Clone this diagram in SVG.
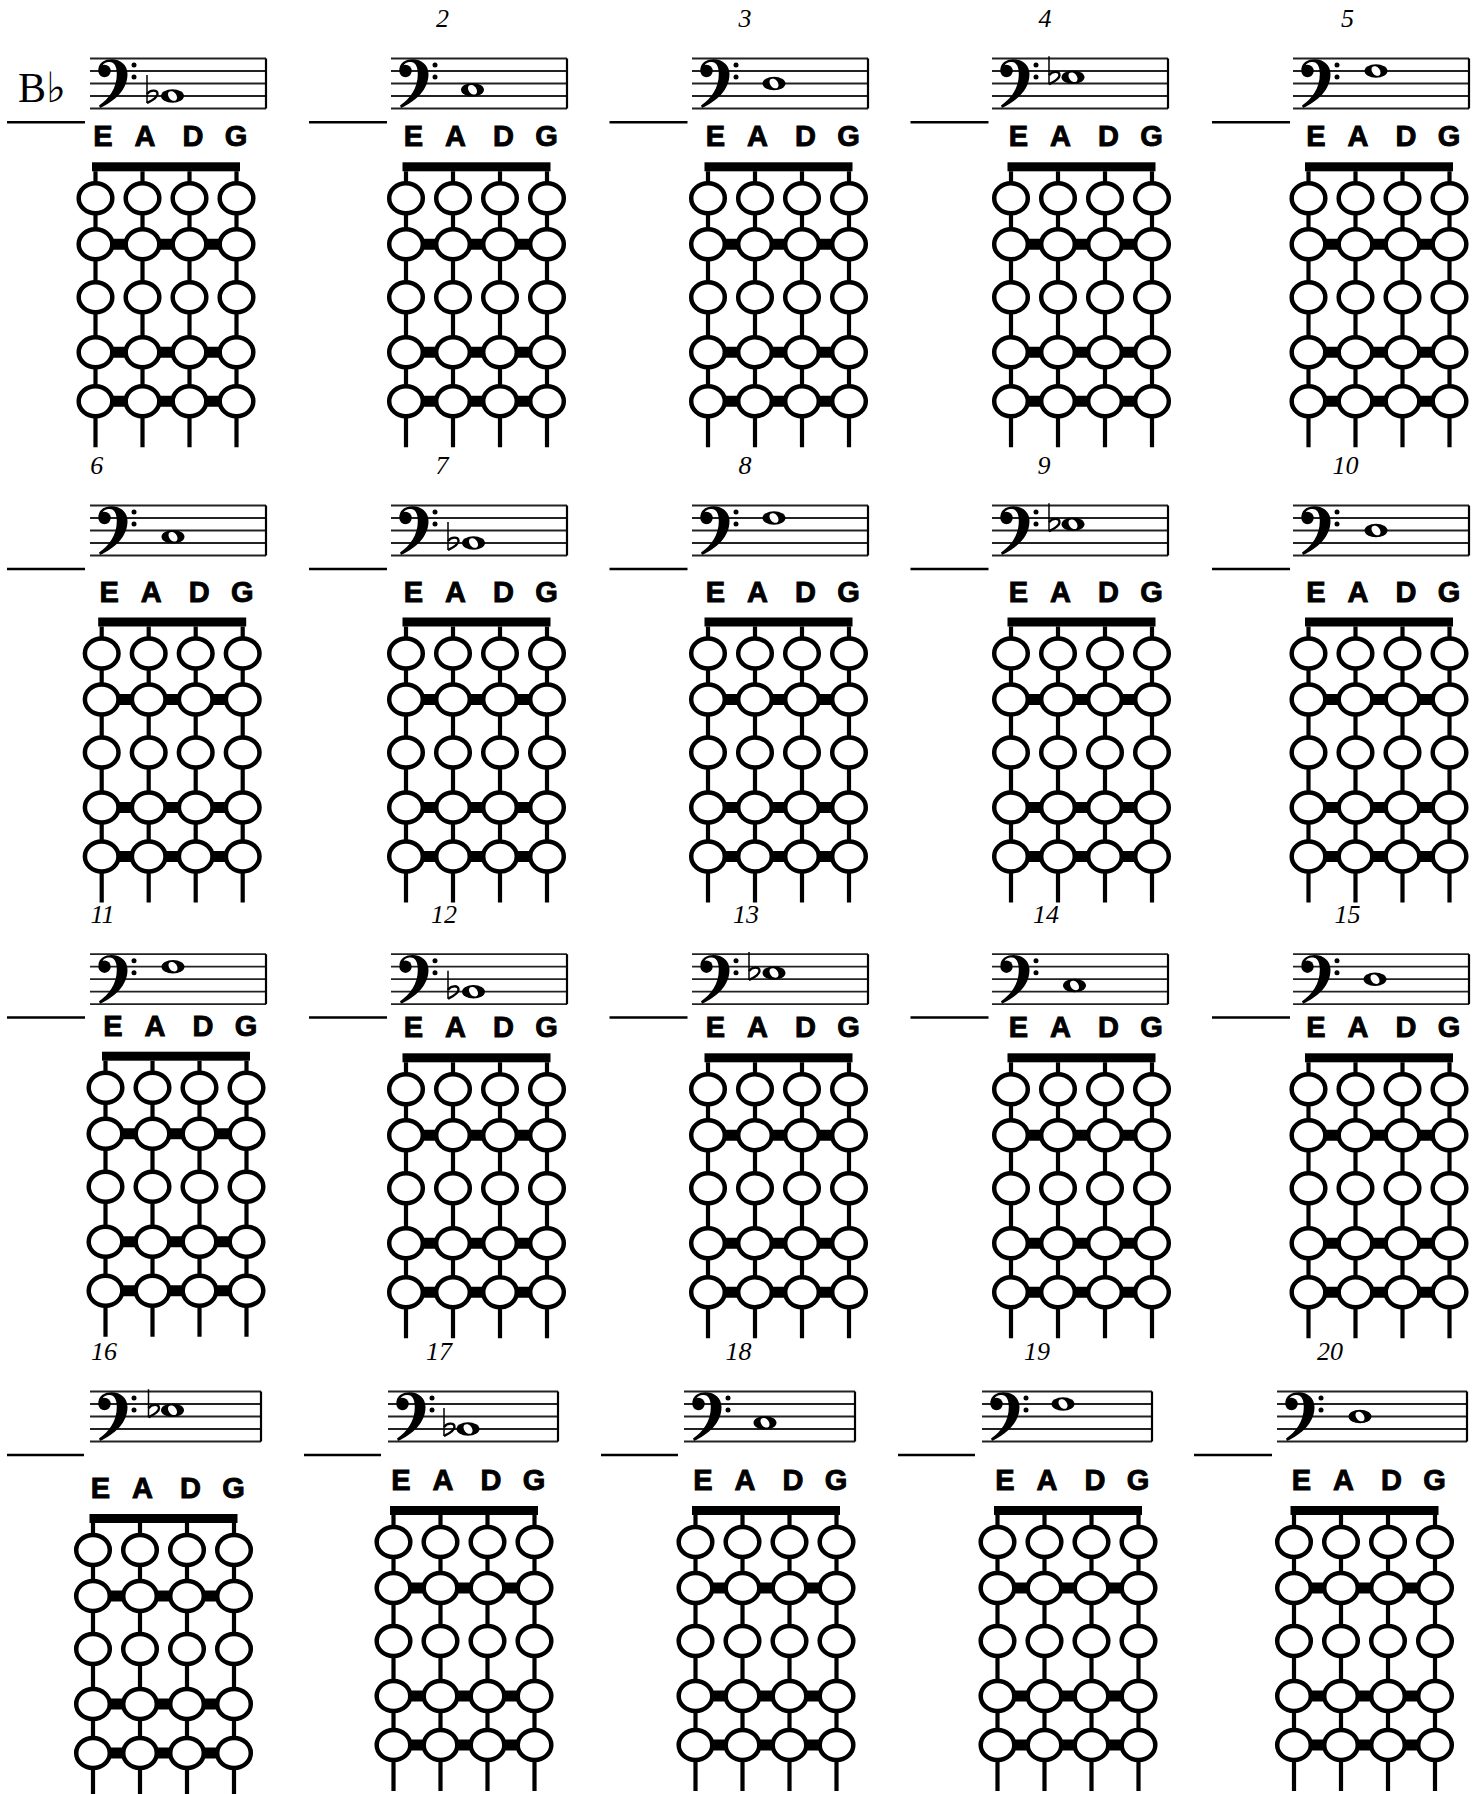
<svg xmlns="http://www.w3.org/2000/svg" xmlns:xlink="http://www.w3.org/1999/xlink" width="1478" height="1794" viewBox="0 0 1478 1794">
<style>
.num{font-family:"Liberation Serif","Times New Roman",serif;font-style:italic;font-size:26px;fill:#000;text-anchor:middle}
.lab{font-family:"Liberation Sans",Arial,sans-serif;font-weight:700;font-size:29px;fill:#000;stroke:#000;stroke-width:0.9;text-anchor:middle}
.key{font-family:"Liberation Serif","DejaVu Serif",serif;font-size:42px;fill:#000}
.rule{stroke:#000;stroke-width:2.5;fill:none}
.sl{stroke:#222;stroke-width:1.8;fill:none}
.bar{stroke:#000;stroke-width:2.2;fill:none}
.str{stroke:#000;stroke-width:4.2;fill:none}
.fret{stroke:#000;stroke-width:11;fill:none}
.hole{fill:#fff;stroke:#000;stroke-width:4.5}
</style>
<defs>
<g id="clef">
<path d="M8.5 11 C8.5 4 15 0.8 21.5 0.8 C31 0.8 37.5 7 37.5 15.5 C37.5 31.5 24.5 42.5 10 49.5 L9 47 C19 40 26.8 30 26.8 15.5 C26.8 7.5 24 3.4 19.8 3.4 C15.5 3.4 12.5 5.5 12.5 8 Z" fill="#000"/>
<circle cx="14.5" cy="12.5" r="6.2" fill="#000"/>
<circle cx="44" cy="6.5" r="2.5" fill="#000"/>
<circle cx="44" cy="18.5" r="2.5" fill="#000"/>
</g>
<g id="wn">
<ellipse cx="0" cy="0" rx="11.5" ry="6.8" fill="#000"/>
<ellipse cx="0" cy="0" rx="3.8" ry="5.4" fill="#fff" transform="rotate(-40)"/>
</g>
<g id="flat">
<line x1="0" y1="-21" x2="0" y2="7" stroke="#000" stroke-width="1.5"/>
<path d="M0 -2 C3 -6 10.5 -7 10.5 -2 C10.5 2 4 5 0 7" fill="none" stroke="#000" stroke-width="2.4"/>
</g>
<g id="fb">
<text class="lab" x="11" y="-16">E</text>
<text class="lab" x="53" y="-16">A</text>
<text class="lab" x="101" y="-16">D</text>
<text class="lab" x="144" y="-16">G</text>
<rect x="0" y="0" width="148" height="9" fill="#000"/>
<path class="str" d="M3.5 9V285M50.5 9V285M97.5 9V285M144.5 9V285"/>
<path class="fret" d="M3.5 82H144.5M3.5 190H144.5M3.5 239H144.5"/>
<g class="hole">
<ellipse cx="3.5" cy="36" rx="16.8" ry="15"/><ellipse cx="50.5" cy="36" rx="16.8" ry="15"/><ellipse cx="97.5" cy="36" rx="16.8" ry="15"/><ellipse cx="144.5" cy="36" rx="16.8" ry="15"/>
<ellipse cx="3.5" cy="82" rx="16.8" ry="15"/><ellipse cx="50.5" cy="82" rx="16.8" ry="15"/><ellipse cx="97.5" cy="82" rx="16.8" ry="15"/><ellipse cx="144.5" cy="82" rx="16.8" ry="15"/>
<ellipse cx="3.5" cy="135" rx="16.8" ry="15"/><ellipse cx="50.5" cy="135" rx="16.8" ry="15"/><ellipse cx="97.5" cy="135" rx="16.8" ry="15"/><ellipse cx="144.5" cy="135" rx="16.8" ry="15"/>
<ellipse cx="3.5" cy="190" rx="16.8" ry="15"/><ellipse cx="50.5" cy="190" rx="16.8" ry="15"/><ellipse cx="97.5" cy="190" rx="16.8" ry="15"/><ellipse cx="144.5" cy="190" rx="16.8" ry="15"/>
<ellipse cx="3.5" cy="239" rx="16.8" ry="15"/><ellipse cx="50.5" cy="239" rx="16.8" ry="15"/><ellipse cx="97.5" cy="239" rx="16.8" ry="15"/><ellipse cx="144.5" cy="239" rx="16.8" ry="15"/>
</g>
</g>
<path id="st176" class="sl" d="M0 0H176M0 12.5H176M0 25H176M0 37.5H176M0 50H176"/>
<path id="st171" class="sl" d="M0 0H171M0 12.5H171M0 25H171M0 37.5H171M0 50H171"/>
<path id="st170" class="sl" d="M0 0H170M0 12.5H170M0 25H170M0 37.5H170M0 50H170"/>
<path id="st190" class="sl" d="M0 0H190M0 12.5H190M0 25H190M0 37.5H190M0 50H190"/>
</defs>
<rect x="0" y="0" width="1478" height="1794" fill="#fff"/>

<!-- Row 1 -->
<g id="cell-1">
<text class="key" x="18" y="102">B♭</text>
<line class="rule" x1="7" y1="122.3" x2="85" y2="122.3"/>
<g transform="translate(90,58.5)"><use href="#st176"/><line class="bar" x1="176" y1="0" x2="176" y2="50"/><use href="#clef"/><use href="#flat" x="57" y="37.5"/><use href="#wn" x="82.5" y="37.5"/></g>
<use href="#fb" x="92" y="162.3"/>
</g>
<g id="cell-2">
<text class="num" x="442.5" y="26.7">2</text>
<line class="rule" x1="309" y1="122.3" x2="387" y2="122.3"/>
<g transform="translate(391,58.5)"><use href="#st176"/><line class="bar" x1="176" y1="0" x2="176" y2="50"/><use href="#clef"/><use href="#wn" x="81.5" y="31.25"/></g>
<use href="#fb" x="402.5" y="162.3"/>
</g>
<g id="cell-3">
<text class="num" x="745" y="26.7">3</text>
<line class="rule" x1="609.5" y1="122.3" x2="687.5" y2="122.3"/>
<g transform="translate(692,58.5)"><use href="#st176"/><line class="bar" x1="176" y1="0" x2="176" y2="50"/><use href="#clef"/><use href="#wn" x="82" y="25"/></g>
<use href="#fb" x="704.5" y="162.3"/>
</g>
<g id="cell-4">
<text class="num" x="1045" y="26.7">4</text>
<line class="rule" x1="910.5" y1="122.3" x2="988.5" y2="122.3"/>
<g transform="translate(992,58.5)"><use href="#st176"/><line class="bar" x1="176" y1="0" x2="176" y2="50"/><use href="#clef"/><use href="#flat" x="57" y="18.75"/><use href="#wn" x="81" y="18.75"/></g>
<use href="#fb" x="1007.5" y="162.3"/>
</g>
<g id="cell-5">
<text class="num" x="1347.5" y="26.7">5</text>
<line class="rule" x1="1212" y1="122.3" x2="1290" y2="122.3"/>
<g transform="translate(1293,58.5)"><use href="#st176"/><line class="bar" x1="176" y1="0" x2="176" y2="50"/><use href="#clef"/><use href="#wn" x="83" y="12.5"/></g>
<use href="#fb" x="1305" y="162.3"/>
</g>

<!-- Row 2 -->
<g id="cell-6">
<text class="num" x="96.7" y="474">6</text>
<line class="rule" x1="7" y1="569" x2="85" y2="569"/>
<g transform="translate(90,505.5)"><use href="#st176"/><line class="bar" x1="176" y1="0" x2="176" y2="50"/><use href="#clef"/><use href="#wn" x="83" y="31.25"/></g>
<use href="#fb" x="98.2" y="617.5"/>
</g>
<g id="cell-7">
<text class="num" x="442" y="474">7</text>
<line class="rule" x1="309" y1="569" x2="387" y2="569"/>
<g transform="translate(391,505.5)"><use href="#st176"/><line class="bar" x1="176" y1="0" x2="176" y2="50"/><use href="#clef"/><use href="#flat" x="57" y="37.5"/><use href="#wn" x="82.5" y="37.5"/></g>
<use href="#fb" x="402.5" y="617.5"/>
</g>
<g id="cell-8">
<text class="num" x="745" y="474">8</text>
<line class="rule" x1="609.5" y1="569" x2="687.5" y2="569"/>
<g transform="translate(692,505.5)"><use href="#st176"/><line class="bar" x1="176" y1="0" x2="176" y2="50"/><use href="#clef"/><use href="#wn" x="82" y="12.5"/></g>
<use href="#fb" x="704.5" y="617.5"/>
</g>
<g id="cell-9">
<text class="num" x="1044" y="474">9</text>
<line class="rule" x1="910.5" y1="569" x2="988.5" y2="569"/>
<g transform="translate(992,505.5)"><use href="#st176"/><line class="bar" x1="176" y1="0" x2="176" y2="50"/><use href="#clef"/><use href="#flat" x="57" y="18.75"/><use href="#wn" x="81" y="18.75"/></g>
<use href="#fb" x="1007.5" y="617.5"/>
</g>
<g id="cell-10">
<text class="num" x="1345.6" y="474">10</text>
<line class="rule" x1="1212" y1="569" x2="1290" y2="569"/>
<g transform="translate(1293,505.5)"><use href="#st176"/><line class="bar" x1="176" y1="0" x2="176" y2="50"/><use href="#clef"/><use href="#wn" x="83" y="25"/></g>
<use href="#fb" x="1305" y="617.5"/>
</g>

<!-- Row 3 -->
<g id="cell-11">
<text class="num" x="102.5" y="923">11</text>
<line class="rule" x1="7" y1="1017.5" x2="85" y2="1017.5"/>
<g transform="translate(90,954.2)"><use href="#st176"/><line class="bar" x1="176" y1="0" x2="176" y2="50"/><use href="#clef"/><use href="#wn" x="83" y="12.5"/></g>
<use href="#fb" x="102" y="1051.7"/>
</g>
<g id="cell-12">
<text class="num" x="444" y="923">12</text>
<line class="rule" x1="309" y1="1017.5" x2="387" y2="1017.5"/>
<g transform="translate(391,954.2)"><use href="#st176"/><line class="bar" x1="176" y1="0" x2="176" y2="50"/><use href="#clef"/><use href="#flat" x="57" y="37.5"/><use href="#wn" x="82.5" y="37.5"/></g>
<use href="#fb" x="402.5" y="1053.3"/>
</g>
<g id="cell-13">
<text class="num" x="746" y="923">13</text>
<line class="rule" x1="609.5" y1="1017.5" x2="687.5" y2="1017.5"/>
<g transform="translate(692,954.2)"><use href="#st176"/><line class="bar" x1="176" y1="0" x2="176" y2="50"/><use href="#clef"/><use href="#flat" x="57" y="18.75"/><use href="#wn" x="82" y="18.75"/></g>
<use href="#fb" x="704.5" y="1053.3"/>
</g>
<g id="cell-14">
<text class="num" x="1046" y="923">14</text>
<line class="rule" x1="910.5" y1="1017.5" x2="988.5" y2="1017.5"/>
<g transform="translate(992,954.2)"><use href="#st176"/><line class="bar" x1="176" y1="0" x2="176" y2="50"/><use href="#clef"/><use href="#wn" x="82.5" y="31.25"/></g>
<use href="#fb" x="1007.5" y="1053.3"/>
</g>
<g id="cell-15">
<text class="num" x="1347.5" y="923">15</text>
<line class="rule" x1="1212" y1="1017.5" x2="1290" y2="1017.5"/>
<g transform="translate(1293,954.2)"><use href="#st176"/><line class="bar" x1="176" y1="0" x2="176" y2="50"/><use href="#clef"/><use href="#wn" x="82" y="25"/></g>
<use href="#fb" x="1305" y="1053.3"/>
</g>

<!-- Row 4 -->
<g id="cell-16">
<text class="num" x="104" y="1360">16</text>
<line class="rule" x1="7" y1="1455" x2="84" y2="1455"/>
<g transform="translate(90,1391.5)"><use href="#st171"/><line class="bar" x1="171" y1="0" x2="171" y2="50"/><use href="#clef"/><use href="#flat" x="58.5" y="18.75"/><use href="#wn" x="82.5" y="18.75"/></g>
<use href="#fb" x="89.5" y="1514"/>
</g>
<g id="cell-17">
<text class="num" x="439" y="1360">17</text>
<line class="rule" x1="304" y1="1455" x2="381" y2="1455"/>
<g transform="translate(388,1391.5)"><use href="#st170"/><line class="bar" x1="170" y1="0" x2="170" y2="50"/><use href="#clef"/><use href="#flat" x="56" y="37.5"/><use href="#wn" x="80" y="37.5"/></g>
<use href="#fb" x="390" y="1506"/>
</g>
<g id="cell-18">
<text class="num" x="738.4" y="1360">18</text>
<line class="rule" x1="601" y1="1455" x2="678" y2="1455"/>
<g transform="translate(684,1391.5)"><use href="#st171"/><line class="bar" x1="171" y1="0" x2="171" y2="50"/><use href="#clef"/><use href="#wn" x="81" y="31.25"/></g>
<use href="#fb" x="692" y="1506"/>
</g>
<g id="cell-19">
<text class="num" x="1037" y="1360">19</text>
<line class="rule" x1="898" y1="1455" x2="975" y2="1455"/>
<g transform="translate(982,1391.5)"><use href="#st170"/><line class="bar" x1="170" y1="0" x2="170" y2="50"/><use href="#clef"/><use href="#wn" x="81" y="12.5"/></g>
<use href="#fb" x="994" y="1506"/>
</g>
<g id="cell-20">
<text class="num" x="1330" y="1360">20</text>
<line class="rule" x1="1194" y1="1455" x2="1272" y2="1455"/>
<g transform="translate(1277,1391.5)"><use href="#st190"/><line class="bar" x1="190" y1="0" x2="190" y2="50"/><use href="#clef"/><use href="#wn" x="83" y="25"/></g>
<use href="#fb" x="1290.5" y="1506"/>
</g>
</svg>
